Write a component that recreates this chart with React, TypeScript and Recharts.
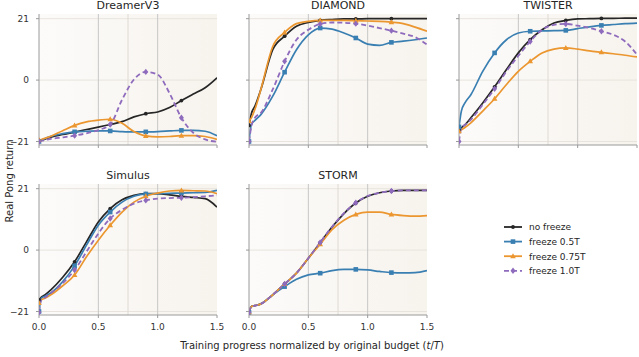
import React from 'react';
import {
  LineChart,
  Line,
  XAxis,
  YAxis,
  ReferenceArea,
  ReferenceLine,
} from 'recharts';

// sample points along training progress (t/T)
const progress = [0, 0.02, 0.05, 0.1, 0.2, 0.3, 0.4, 0.5, 0.6, 0.7, 0.8, 0.9, 1.0, 1.1, 1.2, 1.3, 1.4, 1.5];
// markers are drawn every 0.3
const markerAt = [0, 0.3, 0.6, 0.9, 1.2];

const dreamerNoFreeze = [-20.9, -20.6, -20.2, -19.5, -18.6, -17.8, -16.9, -16.1, -15.2, -14.2, -12.6, -11.5, -10.9, -9.4, -7.0, -4.8, -2.6, 0.8];
const dreamerFreeze05 = [-21, -20.6, -20.0, -19.2, -18.3, -17.7, -17.5, -17.4, -17.4, -17.6, -17.7, -17.7, -17.6, -17.4, -17.2, -17.2, -17.5, -19.0];
const dreamerFreeze075 = [-20.5, -20.3, -19.9, -19.2, -17.3, -15.5, -14.3, -13.7, -13.4, -14.8, -17.6, -19.1, -19.4, -19.3, -19.0, -19.0, -19.3, -20.3];
const dreamerFreeze10 = [-21, -20.8, -20.5, -20.1, -19.6, -19.0, -18.2, -17.1, -15.2, -6.7, 0.2, 2.8, 1.9, -4.5, -12.9, -18.0, -20.3, -21.1];

const diamondNoFreeze = [-15.5, -11.5, -8.9, -3.2, 10.4, 15.0, 18.4, 19.7, 20.4, 20.7, 20.9, 20.9, 21, 21, 21, 21, 21, 21];
const diamondFreeze05 = [-21, -15.2, -13.8, -11.8, -5.5, 2.7, 10.4, 15.5, 17.8, 17.4, 16.1, 14.4, 12.3, 11.9, 12.9, 13.3, 13.8, 14.4];
const diamondFreeze075 = [-14, -12.9, -10.0, -3.2, 11.5, 16.3, 19.3, 20.1, 20.4, 20.4, 20.4, 20.3, 20.2, 20.1, 19.8, 19.3, 18.1, 16.7];
const diamondFreeze10 = [-21, -15.8, -12.9, -11.2, -3.2, 6.4, 13.8, 17.2, 19.2, 19.7, 19.6, 19.3, 18.6, 17.8, 16.9, 15.9, 14.7, 12.1];

const twisterNoFreeze = [-17.0, -16.3, -15.3, -12.9, -7.8, -2.3, 3.6, 9.3, 13.8, 17.2, 19.5, 20.4, 20.9, 21.0, 21.1, 21.1, 21.2, 21.2];
const twisterFreeze05 = [-16.0, -10.6, -7.8, -5.0, 3.0, 9.3, 13.8, 16.1, 16.7, 16.8, 16.9, 17.0, 17.6, 18.2, 18.7, 19.0, 19.3, 19.5];
const twisterFreeze075 = [-17.5, -17.0, -16.2, -14.6, -10.6, -6.4, -1.5, 3.0, 6.4, 9.3, 10.6, 11.0, 10.6, 10.0, 9.5, 9.0, 8.5, 7.9];
const twisterFreeze10 = [-21, -16.3, -15.3, -13.5, -8.4, -3.0, 3.0, 8.3, 13.2, 17.2, 18.9, 19.2, 18.6, 17.8, 16.7, 15.5, 13.2, 8.7];

const simulusNoFreeze = [-17, -16.1, -15.3, -13.6, -9.3, -4.0, 2.8, 9.6, 14.2, 17.2, 18.7, 19.3, 19.3, 18.9, 18.4, 18.0, 17.6, 14.7];
const simulusFreeze05 = [-21, -16.4, -15.8, -14.7, -10.8, -5.4, 1.7, 8.5, 13.0, 16.4, 18.4, 19.2, 19.3, 19.4, 19.5, 19.6, 19.7, 20.4];
const simulusFreeze075 = [-18.1, -17.0, -16.5, -15.3, -12.2, -8.5, -2.3, 3.4, 8.5, 13.0, 16.4, 18.4, 19.5, 20.2, 20.4, 20.3, 20.2, 19.3];
const simulusFreeze10 = [-21.3, -17.0, -16.2, -14.7, -11.3, -6.8, -0.6, 5.7, 10.8, 13.8, 15.9, 17.0, 17.6, 17.8, 17.9, 18.1, 18.4, 18.7];

const stormNoFreeze = [-21.3, -19.3, -19.0, -18.4, -15.3, -11.6, -7.9, -2.8, 2.5, 7.9, 12.5, 16.1, 18.4, 19.6, 20.2, 20.4, 20.4, 20.4];
const stormFreeze05 = [-21.3, -19.3, -19.0, -18.4, -15.3, -12.5, -10.0, -8.5, -7.9, -7.0, -6.6, -6.6, -6.8, -7.3, -7.7, -7.8, -7.7, -7.0];
const stormFreeze075 = [-21.3, -19.3, -19.0, -18.4, -15.3, -11.6, -7.9, -2.8, 2.0, 7.0, 10.2, 12.2, 13.0, 13.0, 12.2, 11.8, 11.6, 11.8];
const stormFreeze10 = [-21.3, -19.3, -19.0, -18.4, -15.3, -11.6, -7.9, -2.8, 2.6, 8.0, 12.6, 16.2, 18.5, 19.6, 20.2, 20.4, 20.4, 20.4];

const seriesNames = ['no freeze', 'freeze 0.5T', 'freeze 0.75T', 'freeze 1.0T'];
const yTicks = [-21, 0, 21];
const xTicks = [0, 0.5, 1.0, 1.5];

const FONT = '"DejaVu Sans", sans-serif';
const COLORS = ['#262626', '#3a7fb2', '#eb962f', '#8f6bbd'];
const SHAPES = ['circle', 'square', 'triangle', 'diamond'] as const;

const panels = [
  { title: 'DreamerV3', col: 0, row: 0, series: [dreamerNoFreeze, dreamerFreeze05, dreamerFreeze075, dreamerFreeze10] },
  { title: 'DIAMOND', col: 1, row: 0, series: [diamondNoFreeze, diamondFreeze05, diamondFreeze075, diamondFreeze10] },
  { title: 'TWISTER', col: 2, row: 0, series: [twisterNoFreeze, twisterFreeze05, twisterFreeze075, twisterFreeze10] },
  { title: 'Simulus', col: 0, row: 1, series: [simulusNoFreeze, simulusFreeze05, simulusFreeze075, simulusFreeze10] },
  { title: 'STORM', col: 1, row: 1, series: [stormNoFreeze, stormFreeze05, stormFreeze075, stormFreeze10] },
];

const COL_X = [39, 249, 459];
const ROW_Y = [14, 184];
const PLOT_W = 178;
const PLOT_H = 131;
const LEFT_PAD = 39;
const RIGHT_PAD = 12;
const BOTTOM_PAD = 30;

const Marker = ({ shape, x, y, color }: { shape: string; x: number; y: number; color: string }) => {
  if (shape === 'circle') return <circle cx={x} cy={y} r={1.9} fill={color} />;
  if (shape === 'square') return <rect x={x - 2.3} y={y - 2.3} width={4.6} height={4.6} fill={color} />;
  if (shape === 'triangle') {
    return <polygon points={`${x},${y - 3} ${x + 2.8},${y + 2} ${x - 2.8},${y + 2}`} fill={color} />;
  }
  return <polygon points={`${x},${y - 3.2} ${x + 2.5},${y} ${x},${y + 3.2} ${x - 2.5},${y}`} fill={color} />;
};

const makeDot = (shape: string, color: string) => (props: any) => {
  const { cx, cy, payload, index } = props;
  const key = `dot-${shape}-${index}`;
  if (cx == null || cy == null || !markerAt.includes(payload.t)) return <g key={key} />;
  return (
    <g key={key}>
      <Marker shape={shape} x={cx} y={cy} color={color} />
    </g>
  );
};

const minusSign = (v: number) => String(v).replace('-', '\u2212');

const Panel = ({ panel }: { panel: (typeof panels)[number] }) => {
  const data = progress.map((t, i) => ({
    t,
    s0: panel.series[0][i],
    s1: panel.series[1][i],
    s2: panel.series[2][i],
    s3: panel.series[3][i],
  }));
  const showY = panel.col === 0;
  const showX = panel.row === 1;
  const gradId = `shade-${panel.col}-${panel.row}`;
  const left = COL_X[panel.col];
  const top = ROW_Y[panel.row];

  return (
    <>
      <div
        style={{
          position: 'absolute',
          left,
          top: top - 15,
          width: PLOT_W,
          textAlign: 'center',
          fontSize: 11,
          lineHeight: '13px',
          color: '#262626',
        }}
      >
        {panel.title}
      </div>
      <div style={{ position: 'absolute', left: left - LEFT_PAD, top: top - 14 }}>
        <LineChart
          width={LEFT_PAD + PLOT_W + RIGHT_PAD}
          height={14 + PLOT_H + BOTTOM_PAD}
          data={data}
          margin={{ top: 14, right: RIGHT_PAD, bottom: 0, left: 0 }}
        >
          <defs>
            <linearGradient id={gradId} x1="0" y1="0" x2="1" y2="0">
              <stop offset="0%" stopColor="#fcfbfa" />
              <stop offset="100%" stopColor="#f7f3ed" />
            </linearGradient>
          </defs>
          <XAxis
            dataKey="t"
            type="number"
            domain={[0, 1.5]}
            ticks={xTicks}
            allowDataOverflow
            height={BOTTOM_PAD}
            tickSize={3}
            tickMargin={6}
            stroke="#9a9a9a"
            tick={{ fontSize: 9, fill: '#333', fontFamily: FONT }}
            tickFormatter={(v: number) => (showX ? v.toFixed(1) : '')}
          />
          <YAxis
            type="number"
            domain={[-22.2, 22.6]}
            ticks={yTicks}
            allowDataOverflow
            width={LEFT_PAD}
            tickSize={3}
            tickMargin={7}
            stroke="#9a9a9a"
            tick={{ fontSize: 9, fill: '#333', fontFamily: FONT }}
            tickFormatter={(v: number) => (showY ? minusSign(v) : '')}
          />
          <ReferenceArea x1={0} x2={1.5} y1={-22.2} y2={22.6} fill={`url(#${gradId})`} fillOpacity={1} stroke="none" />
          {yTicks.map((v) => (
            <ReferenceLine key={`h${v}`} y={v} stroke="#e8e4dd" strokeWidth={1} />
          ))}
          <ReferenceLine x={0.75} stroke="#dedad3" strokeWidth={1} />
          <ReferenceLine x={0.5} stroke="#c6c6c6" strokeWidth={1} />
          <ReferenceLine x={1.0} stroke="#c6c6c6" strokeWidth={1} />
          {[0, 1, 2, 3].map((k) => (
            <Line
              key={`s${k}`}
              dataKey={`s${k}`}
              name={seriesNames[k]}
              type="monotone"
              stroke={COLORS[k]}
              strokeWidth={k === 3 ? 1.8 : 1.7}
              strokeDasharray={k === 3 ? '5 3' : undefined}
              dot={makeDot(SHAPES[k], COLORS[k])}
              activeDot={false}
              isAnimationActive={false}
            />
          ))}
        </LineChart>
      </div>
    </>
  );
};

const LegendBox = () => (
  <svg style={{ position: 'absolute', left: 500, top: 218 }} width={120} height={62}>
    {seriesNames.map((name, i) => {
      const y = 9 + i * 14.6;
      return (
        <g key={name}>
          <line
            x1={4}
            x2={22}
            y1={y}
            y2={y}
            stroke={COLORS[i]}
            strokeWidth={1.8}
            strokeDasharray={i === 3 ? '5 3' : undefined}
          />
          <Marker shape={SHAPES[i]} x={13} y={y} color={COLORS[i]} />
          <text x={29} y={y + 3.3} fontSize={9} fill="#262626" fontFamily={FONT}>
            {name}
          </text>
        </g>
      );
    })}
  </svg>
);

export default function App() {
  return (
    <div
      style={{
        position: 'absolute',
        left: 0,
        top: 0,
        width: 639,
        height: 357,
        background: '#ffffff',
        fontFamily: FONT,
        overflow: 'hidden',
      }}
    >
      {panels.map((p) => (
        <Panel key={p.title} panel={p} />
      ))}
      <LegendBox />
      <div
        style={{
          position: 'absolute',
          left: 8.5,
          top: 181,
          transform: 'translate(-50%, -50%) rotate(-90deg)',
          fontSize: 10,
          whiteSpace: 'nowrap',
          color: '#262626',
        }}
      >
        Real Pong return
      </div>
      <div
        style={{
          position: 'absolute',
          left: 312,
          top: 345,
          transform: 'translate(-50%, -50%)',
          fontSize: 10,
          whiteSpace: 'nowrap',
          color: '#262626',
        }}
      >
        Training progress normalized by original budget (<i>t</i>/<i>T</i>)
      </div>
    </div>
  );
}
